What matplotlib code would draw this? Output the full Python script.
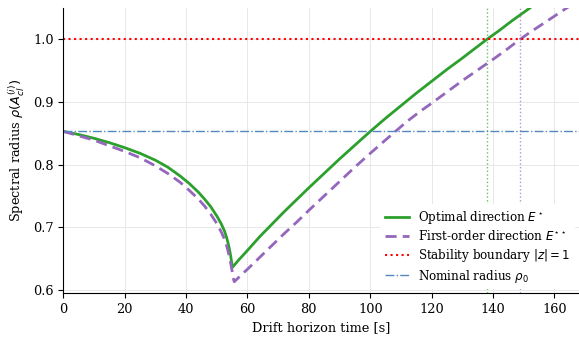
import matplotlib
matplotlib.use("Agg")
import matplotlib.pyplot as plt

# drift horizon times [s] and spectral radius values
t_opt = [0, 5, 10, 15, 20, 25, 30, 34, 38, 41, 44, 46, 48, 50, 51.5, 52.5,
         53.3, 54, 54.5, 54.9, 55.1, 57, 60, 64, 68, 72, 76, 80, 85, 90, 95,
         100, 105, 110, 115, 120, 125, 130, 134, 138, 142, 146, 150, 152]
rho_opt = [0.853, 0.848, 0.842, 0.835, 0.827, 0.818, 0.807, 0.796, 0.782,
           0.770, 0.756, 0.745, 0.733, 0.718, 0.705, 0.694, 0.682, 0.668,
           0.655, 0.642, 0.636, 0.647, 0.663, 0.685, 0.705, 0.725, 0.744,
           0.763, 0.786, 0.809, 0.831, 0.853, 0.874, 0.894, 0.914, 0.933,
           0.952, 0.970, 0.985, 1.000, 1.014, 1.029, 1.043, 1.050]

t_first = [0, 5, 10, 15, 20, 25, 30, 34, 38, 41, 44, 46, 48, 50, 51.5, 52.5,
           53.3, 54, 54.6, 55.1, 55.5, 55.7, 58, 60, 64, 68, 72, 76, 80, 85,
           90, 95, 100, 104.2, 108.2, 112, 116, 120, 125, 130, 135, 140,
           144.5, 148.8, 152, 156, 160, 164, 165]
rho_first = [0.853, 0.846, 0.839, 0.830, 0.821, 0.811, 0.798, 0.786, 0.772,
             0.759, 0.745, 0.734, 0.721, 0.706, 0.692, 0.681, 0.669, 0.655,
             0.641, 0.627, 0.616, 0.613, 0.624, 0.633, 0.652, 0.671, 0.690,
             0.708, 0.727, 0.750, 0.773, 0.796, 0.818, 0.836, 0.853, 0.869,
             0.884, 0.898, 0.916, 0.934, 0.951, 0.968, 0.984, 1.000, 1.011,
             1.024, 1.037, 1.050, 1.053]

rho_nominal = 0.853
stability = 1.0
t_cross_opt = 138.1
t_cross_first = 148.8

plt.rcParams["font.family"] = "DejaVu Serif"
plt.rcParams["mathtext.fontset"] = "dejavusans"

fig = plt.figure(figsize=(5.79, 3.39), dpi=100)
ax = fig.add_axes([63.3 / 579, 46 / 339, (579 - 63.3) / 579, 285 / 339])

ax.plot(t_opt, rho_opt, color="#2ca02c", lw=2.0, label=r"Optimal direction $E^\star$")
ax.plot(t_first, rho_first, color="#9467bd", lw=2.0, ls=(0, (4, 2.2)),
        label=r"First-order direction $E^{\star\star}$")
ax.axhline(stability, color="red", ls=":", lw=1.5, label=r"Stability boundary $|z| = 1$")
ax.axhline(rho_nominal, color="#5588c0", ls="-.", lw=1.0,
           label=r"Nominal radius $\rho_0$")
ax.axvline(t_cross_opt, color="#2ca02c", ls=":", lw=1.0, alpha=0.7)
ax.axvline(t_cross_first, color="#9467bd", ls=":", lw=1.0, alpha=0.7)

ax.set_xlim(0, 168)
ax.set_ylim(0.595, 1.05)
ax.set_xticks(range(0, 161, 20))
ax.set_yticks([0.6, 0.7, 0.8, 0.9, 1.0])
ax.grid(True, color="#e8e8e8", lw=0.7)
ax.set_axisbelow(True)
for side in ("top", "right"):
    ax.spines[side].set_visible(False)

ax.tick_params(labelsize=9.3)
ax.set_xlabel("Drift horizon time [s]", fontsize=9.3)
ax.set_ylabel(r"Spectral radius $\rho(A_{cl}^{(i)})$", fontsize=9.3)

leg = ax.legend(loc="lower right", fontsize=8.6, framealpha=1.0, edgecolor="none",
                fancybox=False, borderaxespad=0.3, labelspacing=0.3)

fig.savefig("out.png", dpi=100)
